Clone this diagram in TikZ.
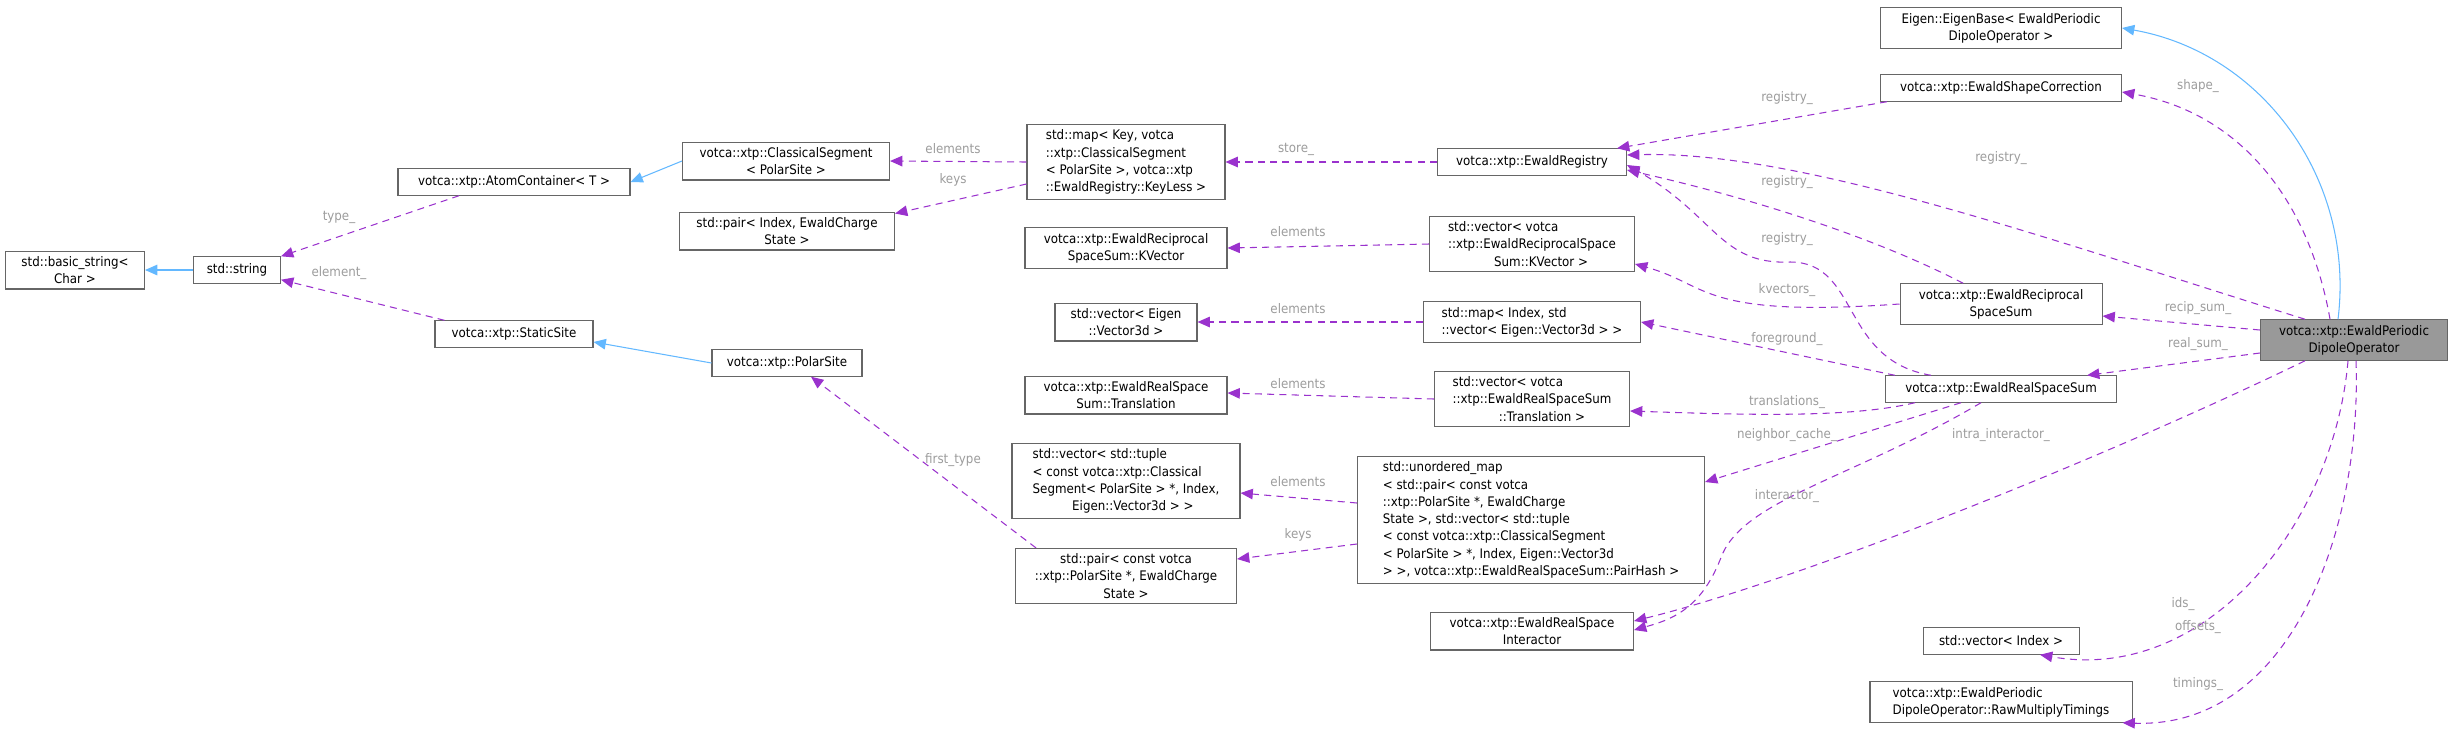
\documentclass[tikz,border=0pt]{standalone}
\usepackage{fontspec}
\setmainfont{DejaVu Sans}[FakeStretch=0.9]
\usetikzlibrary{arrows.meta,calc}

\definecolor{edgepurple}{HTML}{9A32CD}
\definecolor{edgeblue}{HTML}{63B8FF}
\definecolor{lblgray}{HTML}{9C9C9C}
\definecolor{boxgray}{HTML}{666666}
\definecolor{rootfill}{HTML}{999999}

\begin{document}
\begin{tikzpicture}[%
    x=0.02cm, y=-0.02cm,        % one unit is one pixel of the graph
    >={Triangle[length=7pt,width=6pt]},
    every node/.style={font=\fontsize{7.5}{9.8}\selectfont},
    ]
% -------------------------------------------------
% Box and connector styles
\tikzset{
  box/.style={draw=boxgray, fill=white, line width=0.6pt, align=center,
    inner xsep=4pt, inner ysep=3pt, minimum height=15pt},
  lbox/.style={box, align=left},
  root/.style={box, fill=rootfill},
  dep/.style={->, draw=edgepurple, dashed, dash pattern=on 4pt off 3pt, line width=0.6pt},
  inh/.style={->, draw=edgeblue, line width=0.6pt},
  lbl/.style={text=lblgray}
}
\useasboundingbox (0,0) rectangle (2450,728);
% -------------------------------------------------
% Left part
\node [box, minimum width=139*0.02cm] (bstring) at (75,270) {std::basic\_string<\\Char >};
\node [box, minimum width=87*0.02cm] (string) at (237,270) {std::string};
\node [box, minimum width=232*0.02cm] (atom) at (514,182) {votca::xtp::AtomContainer< T >};
\node [box, minimum width=158*0.02cm] (static) at (514,334) {votca::xtp::StaticSite};
\node [box, minimum width=207*0.02cm] (clseg) at (786,161) {votca::xtp::ClassicalSegment\\< PolarSite >};
\node [box, minimum width=215*0.02cm] (pairidx) at (787,231) {std::pair< Index, EwaldCharge\\State >};
\node [box, minimum width=150*0.02cm] (polar) at (787,363) {votca::xtp::PolarSite};
% -------------------------------------------------
% Middle columns
\node [lbox, minimum width=198*0.02cm] (mapkey) at (1126,162) {std::map< Key, votca\\::xtp::ClassicalSegment\\< PolarSite >, votca::xtp\\::EwaldRegistry::KeyLess >};
\node [box, minimum width=202*0.02cm] (kvec) at (1126,248) {votca::xtp::EwaldReciprocal\\SpaceSum::KVector};
\node [box, minimum width=142*0.02cm] (veceig) at (1126,322) {std::vector< Eigen\\::Vector3d >};
\node [box, minimum width=202*0.02cm] (transl) at (1126,395) {votca::xtp::EwaldRealSpace\\Sum::Translation};
\node [lbox, minimum width=228*0.02cm] (vectup) at (1126,481) {std::vector< std::tuple\\< const votca::xtp::Classical\\Segment< PolarSite > *, Index,\\\hspace*{3em}Eigen::Vector3d > >};
\node [box, minimum width=221*0.02cm] (pairconst) at (1126,576) {std::pair< const votca\\::xtp::PolarSite *, EwaldCharge\\State >};
\node [box, minimum width=189*0.02cm] (registry) at (1532,162) {votca::xtp::EwaldRegistry};
\node [lbox, minimum width=205*0.02cm] (veckvec) at (1532,244) {std::vector< votca\\::xtp::EwaldReciprocalSpace\\\hspace*{3.5em}Sum::KVector >};
\node [lbox, minimum width=217*0.02cm] (mapidx) at (1532,322) {std::map< Index, std\\::vector< Eigen::Vector3d > >};
\node [lbox, minimum width=195*0.02cm] (vectransl) at (1532,399) {std::vector< votca\\::xtp::EwaldRealSpaceSum\\\hspace*{3.5em}::Translation >};
\node [lbox, minimum width=347*0.02cm] (unordered) at (1531,520) {std::unordered\_map\\< std::pair< const votca\\::xtp::PolarSite *, EwaldCharge\\State >, std::vector< std::tuple\\< const votca::xtp::ClassicalSegment\\< PolarSite > *, Index, Eigen::Vector3d\\ > >, votca::xtp::EwaldRealSpaceSum::PairHash >};
\node [box, minimum width=203*0.02cm] (interact) at (1532,631) {votca::xtp::EwaldRealSpace\\Interactor};
% -------------------------------------------------
% Right column
\node [box, minimum width=241*0.02cm] (eigbase) at (2001,28) {Eigen::EigenBase< EwaldPeriodic\\DipoleOperator >};
\node [box, minimum width=241*0.02cm] (shape) at (2001,88) {votca::xtp::EwaldShapeCorrection};
\node [box, minimum width=202*0.02cm] (recip) at (2001,304) {votca::xtp::EwaldReciprocal\\SpaceSum};
\node [box, minimum width=231*0.02cm] (realsum) at (2001,389) {votca::xtp::EwaldRealSpaceSum};
\node [box, minimum width=156*0.02cm] (vecidx) at (2001,641) {std::vector< Index >};
\node [lbox, minimum width=262*0.02cm] (timings) at (2001,702) {votca::xtp::EwaldPeriodic\\DipoleOperator::RawMultiplyTimings};
\node [root, minimum width=187*0.02cm] (dipole) at (2354,340) {votca::xtp::EwaldPeriodic\\DipoleOperator};
% -------------------------------------------------
% Inheritance
\draw [inh] (string) -- (bstring);
\draw [inh] (clseg.west) -- (atom.east);
\draw [inh] (polar.west) -- ($(static.east)+(0,8)$);
\draw [inh] ($(dipole.north)+(-16,0)$) to[out=83,in=-10] (eigbase.east);
% -------------------------------------------------
% Members, left part
\draw [dep] ($(atom.south)+(-55,0)$) -- (string.north east);
\draw [dep] ($(static.north west)+(10,0)$) -- ($(string.south east)+(0,-4)$);
\draw [dep] (mapkey.west) -- (clseg.east);
\draw [dep] ($(mapkey.west)+(0,22)$) -- ($(pairidx.north east)+(0,2)$);
\draw [dep] (registry.west) -- (mapkey.east);
\draw [dep] (veckvec.west) -- (kvec.east);
\draw [dep] (mapidx.west) -- (veceig.east);
\draw [dep] ($(vectransl.west)+(0,0)$) -- ($(transl.east)+(0,-2)$);
\draw [dep] ($(unordered.west)+(0,-17)$) -- ($(vectup.east)+(0,12)$);
\draw [dep] ($(unordered.west)+(0,24)$) -- ($(pairconst.east)+(0,-17)$);
\draw [dep] ($(pairconst.north)+(-90,0)$) -- ($(polar.south)+(24,0)$);
% -------------------------------------------------
% Members, right part
\draw [dep] ($(shape.south west)+(7,0)$) -- ($(registry.north east)+(-10,0)$);
\draw [dep] ($(dipole.north west)+(45,0)$) .. controls (2050,240) and (1800,150) .. ($(registry.east)+(0,-7)$);
\draw [dep] ($(recip.north)+(-38,0)$) .. controls (1880,240) and (1760,200) .. ($(registry.east)+(0,8)$);
\draw [dep] ($(realsum.north)+(-70,0)$) .. controls (1840,360) and (1860,262) .. (1790,262)
  .. controls (1720,265) and (1715,215) .. ($(registry.east)+(0,3)$);
\draw [dep] (recip.west) .. controls (1700,318) and (1710,285) .. ($(veckvec.east)+(0,20)$);
\draw [dep] ($(realsum.north west)+(10,0)$) -- (mapidx.east);
\draw [dep] ($(realsum.south west)+(30,0)$) .. controls (1850,418) and (1750,415) .. ($(vectransl.east)+(0,12)$);
\draw [dep] ($(realsum.south)+(-40,0)$) -- ($(unordered.east)+(0,-38)$);
\draw [dep] ($(realsum.south)+(-20,0)$) .. controls (1850,480) and (1740,500) .. (1720,560)
  .. controls (1700,610) and (1670,620) .. ($(interact.east)+(0,-1)$);
\draw [dep] ($(dipole.south west)+(45,0)$) .. controls (2100,460) and (1800,580) .. ($(interact.east)+(0,-10)$);
\draw [dep] ($(dipole.north)+(-24,0)$) to[out=100,in=-10] ($(shape.east)+(0,4)$);
\draw [dep] ($(dipole.west)+(0,-10)$) -- ($(recip.east)+(0,12)$);
\draw [dep] ($(dipole.west)+(0,13)$) -- ($(realsum.north east)+(-30,0)$);
\draw [dep] ($(dipole.south)+(-6,0)$) to[out=-95,in=-10] ($(vecidx.south)+(39,0)$);
\draw [dep] ($(dipole.south)+(2,0)$) to[out=-88,in=-2] ($(timings.south east)+(-10,0)$);
% -------------------------------------------------
% Member names
\node [lbl] (l-type) at (339,217) {type\_};
\node [lbl] (l-element) at (339,273) {element\_};
\node [lbl] (l-elem1) at (953,149) {elements};
\node [lbl] (l-keys1) at (953,180) {keys};
\node [lbl] (l-first) at (953,460) {first\_type};
\node [lbl] (l-store) at (1296,149) {store\_};
\node [lbl] (l-elem2) at (1298,232) {elements};
\node [lbl] (l-elem3) at (1298,309) {elements};
\node [lbl] (l-elem4) at (1298,384) {elements};
\node [lbl] (l-elem5) at (1298,482) {elements};
\node [lbl] (l-keys2) at (1298,535) {keys};
\node [lbl] (l-reg1) at (1787,98) {registry\_};
\node [lbl] (l-reg2) at (2001,158) {registry\_};
\node [lbl] (l-reg3) at (1787,182) {registry\_};
\node [lbl] (l-reg4) at (1787,239) {registry\_};
\node [lbl] (l-kvec) at (1787,290) {kvectors\_};
\node [lbl] (l-fore) at (1787,339) {foreground\_};
\node [lbl] (l-transl) at (1787,402) {translations\_};
\node [lbl] (l-neigh) at (1787,435) {neighbor\_cache\_};
\node [lbl] (l-inter) at (1787,496) {interactor\_};
\node [lbl] (l-intra) at (2001,435) {intra\_interactor\_};
\node [lbl] (l-shape) at (2198,86) {shape\_};
\node [lbl] (l-recip) at (2198,308) {recip\_sum\_};
\node [lbl] (l-real) at (2198,344) {real\_sum\_};
\node [lbl] (l-ids) at (2183,604) {ids\_};
\node [lbl] (l-offs) at (2198,627) {offsets\_};
\node [lbl] (l-tim) at (2198,684) {timings\_};
\end{tikzpicture}
\end{document}
